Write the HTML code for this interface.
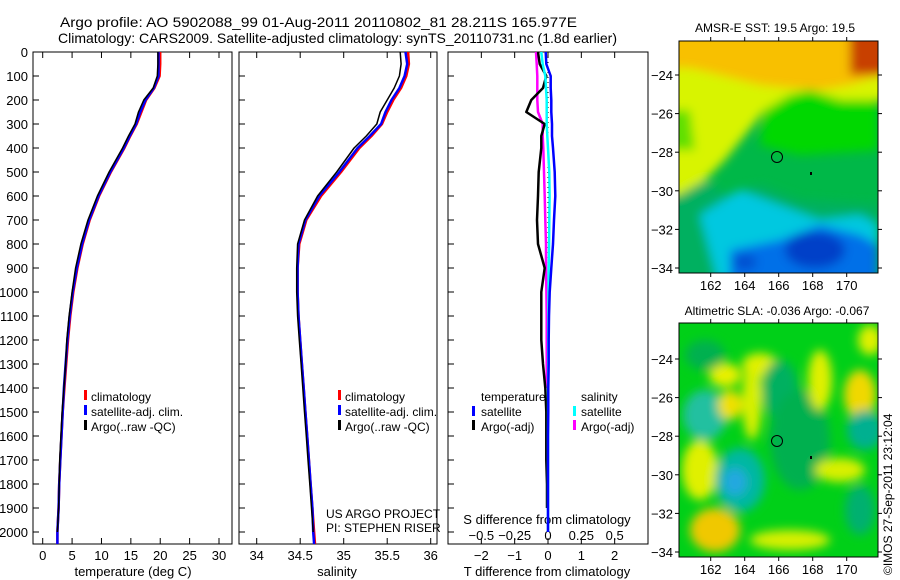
<!DOCTYPE html>
<html><head><meta charset="utf-8"><style>
html,body{margin:0;padding:0;background:#fff;}
svg{display:block;font-family:"Liberation Sans",sans-serif;}
</style></head><body>
<svg id="fig" width="900" height="580" viewBox="0 0 900 580" xmlns="http://www.w3.org/2000/svg">
<defs>
<filter id="blur1" x="-20%" y="-20%" width="140%" height="140%"><feGaussianBlur stdDeviation="5"/></filter>
<clipPath id="clipMap1"><rect x="679" y="41" width="199" height="232"/></clipPath>
<clipPath id="clipMap2"><rect x="679" y="323" width="199" height="234"/></clipPath>
</defs>
<text x="60" y="27" font-size="14" textLength="517" lengthAdjust="spacingAndGlyphs">Argo profile: AO 5902088_99 01-Aug-2011 20110802_81 28.211S 165.977E</text>
<text x="58" y="43" font-size="14" textLength="559" lengthAdjust="spacingAndGlyphs">Climatology: CARS2009. Satellite-adjusted climatology: synTS_20110731.nc (1.8d earlier)</text>

<!-- SST map -->
<g clip-path="url(#clipMap1)">
<rect x="679" y="41" width="199" height="232" fill="#00b848"/>
<g filter="url(#blur1)">
<polygon points="660,30 900,30 900,100 840,100 810,90 790,95 765,110 745,135 725,160 705,180 679,195 660,195" fill="#d8f400"/>
<polygon points="660,30 900,30 900,70 850,85 820,90 790,88 760,85 720,75 690,68 660,68" fill="#f8c000"/>
<rect x="850" y="30" width="50" height="45" fill="#c84000"/>
<polygon points="790,95 810,90 840,100 878,100 878,150 800,155 760,145 765,110" fill="#00d800"/>
<polygon points="660,110 690,110 695,150 660,150" fill="#60e000"/>
<polygon points="660,195 679,195 705,180 725,195 760,185 800,200 878,205 878,290 660,290" fill="#00b060"/>
<polygon points="700,215 740,190 780,205 820,220 860,215 878,225 878,290 720,290" fill="#00c8e0"/>
<polygon points="730,250 780,240 820,225 860,235 878,245 878,290 730,290" fill="#0070e8"/>
<ellipse cx="815" cy="250" rx="30" ry="18" fill="#0040c8"/>
<ellipse cx="745" cy="262" rx="12" ry="8" fill="#0050d0"/>
</g>
<circle cx="777" cy="157" r="5.5" fill="none" stroke="#000" stroke-width="1"/>
<rect x="810" y="172" width="2" height="3" fill="#000"/>
</g>
<rect x="679" y="41" width="199" height="232" fill="none" stroke="#000"/>
<text x="775" y="32" font-size="12" text-anchor="middle">AMSR-E SST: 19.5 Argo: 19.5</text>

<!-- SLA map -->
<g clip-path="url(#clipMap2)">
<rect x="679" y="323" width="199" height="234" fill="#00d018"/>
<g filter="url(#blur1)">
<ellipse cx="752" cy="400" rx="10" ry="40" fill="#d8f000"/>
<ellipse cx="760" cy="365" rx="18" ry="12" fill="#e0f000"/>
<ellipse cx="725" cy="375" rx="16" ry="12" fill="#e8f000"/>
<ellipse cx="705" cy="415" rx="22" ry="25" fill="#20c0a0"/>
<ellipse cx="730" cy="405" rx="12" ry="15" fill="#f0e000"/>
<ellipse cx="700" cy="470" rx="18" ry="30" fill="#e0f000"/>
<ellipse cx="715" cy="530" rx="25" ry="22" fill="#f0c800"/>
<ellipse cx="740" cy="480" rx="25" ry="32" fill="#00b8a0"/>
<ellipse cx="735" cy="482" rx="12" ry="14" fill="#20a8e0"/>
<ellipse cx="780" cy="390" rx="18" ry="30" fill="#00b060"/>
<ellipse cx="800" cy="440" rx="30" ry="50" fill="#00b050"/>
<ellipse cx="820" cy="380" rx="12" ry="30" fill="#e0f000"/>
<ellipse cx="860" cy="395" rx="16" ry="25" fill="#f0d800"/>
<ellipse cx="865" cy="430" rx="18" ry="20" fill="#00b090"/>
<ellipse cx="840" cy="470" rx="25" ry="12" fill="#d8f000"/>
<ellipse cx="790" cy="540" rx="40" ry="10" fill="#d8f000"/>
<ellipse cx="860" cy="510" rx="15" ry="25" fill="#00b070"/>
<ellipse cx="870" cy="340" rx="12" ry="15" fill="#e0f000"/>
<ellipse cx="705" cy="355" rx="20" ry="15" fill="#00b050"/>
</g>
<circle cx="777" cy="441" r="5.5" fill="none" stroke="#000" stroke-width="1"/>
<rect x="810" y="456" width="2" height="3" fill="#000"/>
</g>
<rect x="679" y="323" width="199" height="234" fill="none" stroke="#000"/>
<text x="777" y="315" font-size="12" text-anchor="middle">Altimetric SLA: -0.036 Argo: -0.067</text>
<text transform="translate(892,575) rotate(-90)" font-size="12">©IMOS 27-Sep-2011 23:12:04</text>

<g id="plots"></g>

<g font-size="12">
<rect x="84" y="390" width="3" height="10" fill="#f00"/><text x="91" y="401">climatology</text>
<rect x="84" y="405" width="3" height="10" fill="#00f"/><text x="91" y="416">satellite-adj. clim.</text>
<rect x="84" y="420" width="3" height="10" fill="#000"/><text x="91" y="431">Argo(..raw -QC)</text>
</g>
<g font-size="12">
<rect x="338" y="390" width="3" height="10" fill="#f00"/><text x="345" y="401">climatology</text>
<rect x="338" y="405" width="3" height="10" fill="#00f"/><text x="345" y="416">satellite-adj. clim.</text>
<rect x="338" y="420" width="3" height="10" fill="#000"/><text x="345" y="431">Argo(..raw -QC)</text>
</g>
<text x="326" y="518" font-size="12">US ARGO PROJECT</text>
<text x="326" y="532" font-size="12">PI: STEPHEN RISER</text>
<g font-size="12">
<text x="481" y="401">temperature</text>
<rect x="472" y="406" width="3" height="10" fill="#00f"/><text x="481" y="416">satellite</text>
<rect x="472" y="420" width="3" height="10" fill="#000"/><text x="481" y="431">Argo(-adj)</text>
<text x="581" y="401">salinity</text>
<rect x="573" y="406" width="3" height="10" fill="#0ff"/><text x="581" y="416">satellite</text>
<rect x="573" y="420" width="3" height="10" fill="#f0f"/><text x="581" y="431">Argo(-adj)</text>
</g>
</svg>
<script>
const depths = [0,50,100,150,200,250,300,350,400,500,600,700,800,900,1000,1100,1200,1300,1400,1500,1600,1700,1800,1900,2000,2050];
const tempClim = [20.0,20.0,19.9,19.0,17.6,16.8,16.0,14.9,13.9,11.6,9.6,8.0,6.8,5.9,5.2,4.7,4.3,4.0,3.7,3.4,3.2,3.0,2.8,2.7,2.5,2.5];
const tempSat  = [19.7,19.7,19.7,18.9,17.5,16.6,15.9,14.8,13.8,11.5,9.5,7.9,6.7,5.8,5.1,4.6,4.2,3.9,3.6,3.4,3.2,3.0,2.8,2.7,2.5,2.5];
const tempArgo = [19.6,19.6,19.5,18.8,17.2,16.3,15.7,14.6,13.6,11.3,9.3,7.7,6.5,5.6,5.0,4.5,4.1,3.9,3.6,3.3,3.1,2.9,2.8,2.7,2.5,2.5];
const salClim = [35.74,35.75,35.72,35.66,35.57,35.5,35.44,35.32,35.18,34.97,34.74,34.57,34.49,34.47,34.47,34.48,34.5,34.52,34.54,34.56,34.58,34.6,34.62,34.64,34.66,34.67];
const salSat  = [35.71,35.73,35.7,35.64,35.55,35.48,35.43,35.3,35.16,34.95,34.72,34.56,34.48,34.47,34.47,34.48,34.5,34.52,34.54,34.56,34.58,34.6,34.62,34.64,34.65,34.66];
const salArgo = [35.65,35.66,35.64,35.58,35.5,35.42,35.38,35.26,35.12,34.92,34.7,34.55,34.47,34.46,34.46,34.47,34.49,34.51,34.53,34.55,34.57,34.59,34.61,34.63,34.65,34.66];
const diffDepths = [0,50,100,150,200,250,300,350,400,500,600,700,800,900,1000,1100,1200,1300,1400,1500,1600,1700,1800,1900,2000];
const tDiffSat  = [-0.07,-0.05,0.08,0.08,0.1,0.1,0.12,0.12,0.15,0.2,0.22,0.18,0.15,0.1,0.05,0.03,0.02,0.02,0.01,0.01,0.0,0.0,0.0,0.0,0.0];
const tDiffArgo = [-0.3,-0.25,-0.05,-0.15,-0.5,-0.65,-0.1,-0.2,-0.2,-0.28,-0.3,-0.33,-0.3,-0.1,-0.2,-0.2,-0.2,-0.15,-0.08,-0.05,-0.05,-0.05,-0.03,-0.03];
const sDiffSat  = [-0.05,-0.04,-0.02,-0.015,-0.01,-0.01,-0.01,-0.005,0.0,0.01,0.012,0.01,0.008,0.005,0.004,0.003,0.002,0.002,0.001,0.001,0.0,0.0,0.0,0.0,0.0];
const sDiffArgo = [-0.09,-0.085,-0.08,-0.08,-0.08,-0.075,-0.04,-0.04,-0.035,-0.03,-0.025,-0.02,-0.015,-0.015,-0.012,-0.01,-0.01,-0.01,-0.01];
const depthTicks = [0,100,200,300,400,500,600,700,800,900,1000,1100,1200,1300,1400,1500,1600,1700,1800,1900,2000];
const tempTicks = [0,5,10,15,20,25,30];
const salTicks = [34,34.5,35,35.5,36];
const tDiffTicks = [-2,-1,0,1,2];
const sDiffTicks = [-0.5,-0.25,0,0.25,0.5];
const sDiffTickLabels = ["\u22120.5","\u22120.25","0","0.25","0.5"];
const tDiffTickLabels = ["\u22122","\u22121","0","1","2"];

const NS='http://www.w3.org/2000/svg';
const root=document.getElementById('plots');
const pTop=52, pBot=544;
const yD=d=>pTop+(d/2050)*(pBot-pTop);
function mk(t,a,p){const e=document.createElementNS(NS,t);for(const k in a)e.setAttribute(k,a[k]);(p||root).appendChild(e);return e;}
function scale(d0,d1,r0,r1){return v=>r0+(v-d0)/(d1-d0)*(r1-r0);}
const panels=[
 {x0:33,x1:232,name:'temperature-panel'},
 {x0:239,x1:437,name:'salinity-panel'},
 {x0:448,x1:648,name:'difference-panel'}];
const xT2=scale(0,30,42.7,219);
const xS=scale(34,36,256.7,430.7);
const xTd=scale(-3,3,448,648);
const xSd=scale(-0.75,0.75,448,648);
function line(xs,ds,fx,color,w,name){
  let d='';xs.forEach((v,i)=>{if(v==null)return;d+=(d?'L':'M')+fx(v).toFixed(1)+','+yD(ds[i]).toFixed(1);});
  const p=mk('path',{d:d,fill:'none',stroke:color,'stroke-width':w,'stroke-linejoin':'round'});
  
  
}
panels.forEach(p=>{
  const r=mk('rect',{x:p.x0,y:pTop,width:p.x1-p.x0,height:pBot-pTop,fill:'none',stroke:'#000','stroke-width':1});
  
  
});
depthTicks.forEach(d=>{
  const t=mk('text',{x:28,y:yD(d)+5,'font-size':13,'text-anchor':'end'});t.textContent=d;
  
  
  panels.forEach(p=>{mk('line',{x1:p.x0,x2:p.x0+6,y1:yD(d),y2:yD(d),stroke:'#000'});});
});
function xticks(ticks,labels,fx,ly,name){
  ticks.forEach((v,i)=>{
    const x=fx(v);
    mk('line',{x1:x,x2:x,y1:pBot,y2:pBot-6,stroke:'#000'});
    mk('line',{x1:x,x2:x,y1:pTop,y2:pTop+6,stroke:'#000'});
    const t=mk('text',{x:x,y:ly,'font-size':13,'text-anchor':'middle'});t.textContent=labels[i];
    
    
  });
}
xticks(tempTicks,tempTicks.map(String),xT2,560,'temp-tick-label');
xticks(salTicks,salTicks.map(String),xS,560,'salinity-tick-label');
xticks(tDiffTicks,tDiffTickLabels,xTd,560,'tdiff-tick-label');
sDiffTicks.forEach((v,i)=>{
  const t=mk('text',{x:xSd(v),y:540,'font-size':13,'text-anchor':'middle'});t.textContent=sDiffTickLabels[i];
  
  
});
[[133,'temperature (deg C)','temp-axis-title',576],[337,'salinity','salinity-axis-title',576],[547,'T difference from climatology','tdiff-axis-title',576],[547,'S difference from climatology','sdiff-axis-title',524]].forEach(a=>{
  const t=mk('text',{x:a[0],y:a[3],'font-size':13,'text-anchor':'middle'});t.textContent=a[1];
  
  
});
const lonTicks=[162,164,166,168,170];
const latTicks=[-24,-26,-28,-30,-32,-34];
const xLon=scale(162,170,710.7,846.7);
[[41,273,75,268],[323,557,359,552]].forEach(m=>{
  const yLat=scale(-24,-34,m[2],m[3]);
  lonTicks.forEach(v=>{
    mk('line',{x1:xLon(v),x2:xLon(v),y1:m[1],y2:m[1]+4,stroke:'#000'});
    mk('line',{x1:xLon(v),x2:xLon(v),y1:m[0],y2:m[0]-4,stroke:'#000'});
    const t=mk('text',{x:xLon(v),y:m[1]+17,'font-size':13,'text-anchor':'middle'});t.textContent=v;
    
    
  });
  latTicks.forEach(v=>{
    mk('line',{x1:679,x2:675,y1:yLat(v),y2:yLat(v),stroke:'#000'});
    mk('line',{x1:878,x2:882,y1:yLat(v),y2:yLat(v),stroke:'#000'});
    const t=mk('text',{x:673,y:yLat(v)+5,'font-size':13,'text-anchor':'end'});t.textContent=String(v).replace('-','\u2212');
    
    
  });
});
const z=mk('line',{x1:xTd(0),x2:xTd(0),y1:pTop,y2:yD(1900),stroke:'#000','stroke-dasharray':'1,4'});


line(tempClim,depths,xT2,'#f00',2.5,'temp-climatology-line');
line(tempSat,depths,xT2,'#00f',2.5,'temp-satellite-line');
line(tempArgo,depths.slice(0,25),xT2,'#000',1.5,'temp-argo-line');
line(salClim,depths,xS,'#f00',2.5,'salinity-climatology-line');
line(salSat,depths,xS,'#00f',2.5,'salinity-satellite-line');
line(salArgo,depths.slice(0,25),xS,'#000',1.5,'salinity-argo-line');
line(sDiffArgo,diffDepths,xSd,'#f0f',2.5,'sdiff-argo-line');
line(tDiffArgo,diffDepths,xTd,'#000',2.5,'tdiff-argo-line');
line(sDiffSat,diffDepths,xSd,'#0ff',2.5,'sdiff-satellite-line');
line(tDiffSat,diffDepths,xTd,'#00f',2.5,'tdiff-satellite-line');
</script>
</body></html>
